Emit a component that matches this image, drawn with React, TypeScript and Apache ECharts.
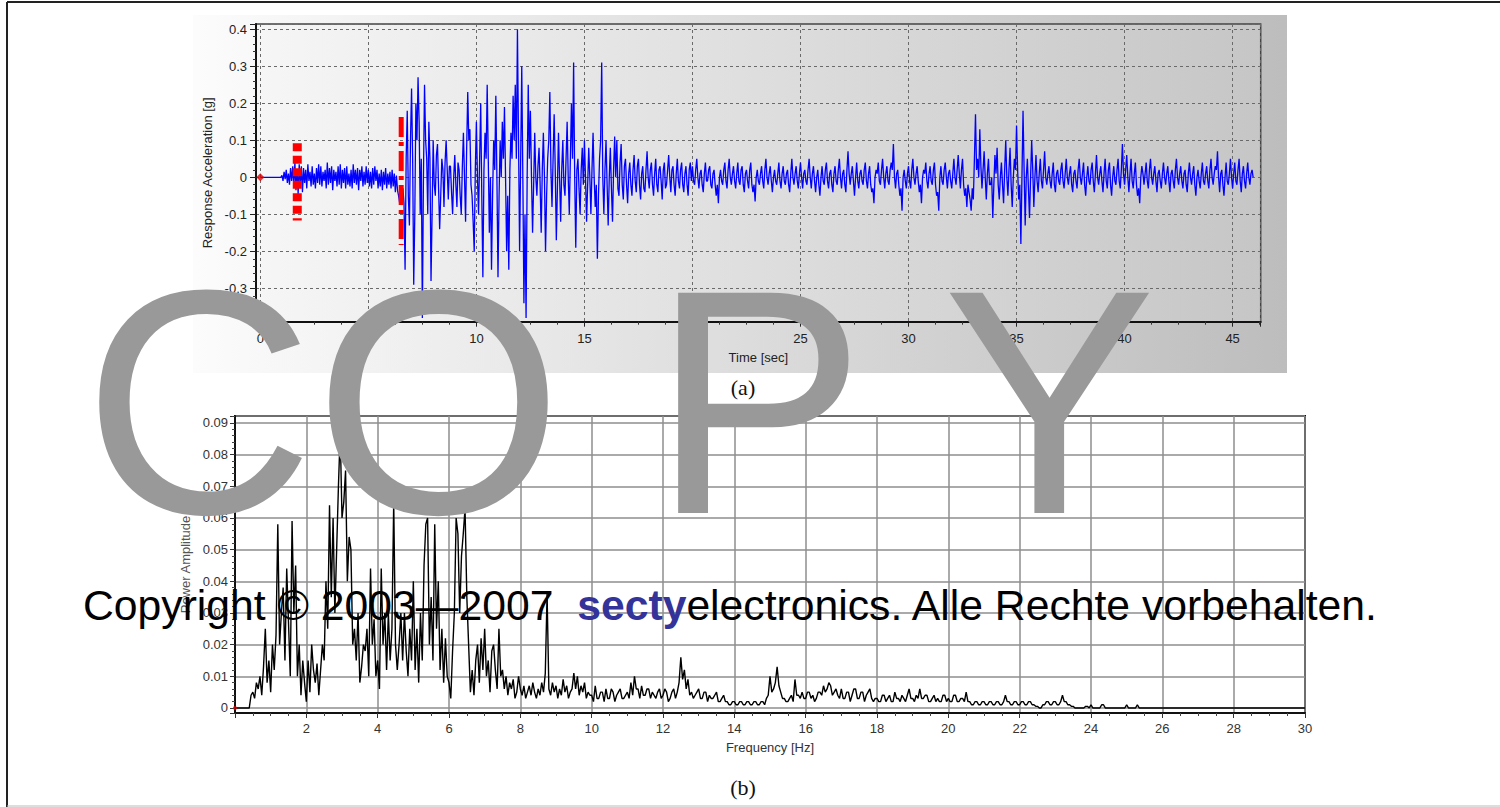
import React, { useEffect, useRef } from "react";
import * as echarts from "echarts";

// ---------- (a) response acceleration [g], sampled every 0.05 s ----------
const ACCEL_STEP = 0.05;
const accel00 = [0,0,0,0,0,0,0,0,0,0,
  0,0,0,0,0,0,0,0,0,0,
  0.005,-0.01,0.015,-0.005,0.02,-0.015,0.01,-0.02,0.025,-0.01,
  0.03,-0.02,0.04,-0.035,0.02,-0.045,0.035,-0.02,0.03,-0.04,
  0.025,-0.015,0.02,-0.03,0.035,-0.01,0.015,-0.025,0.03,-0.02,
  0.01,-0.03,0.025,-0.015,0.035,-0.02,0.03,-0.025,0.015,-0.01,
  0.02,-0.03,0.04,-0.02,0.025,-0.015,0.03,-0.035,0.02,-0.01,
  0.015,-0.025,0.03,-0.02,0.035,-0.03,0.02,-0.015,0.025,-0.03,
  0.03,-0.02,0.01,-0.025,0.02,-0.03,0.035,-0.015,0.02,-0.02,
  0.025,-0.035,0.02,-0.01,0.03,-0.025,0.015,-0.02,0.03,-0.015];
const accel05 = [0.02,-0.025,0.015,-0.03,0.025,-0.02,0.03,-0.01,0.02,-0.03,
  0.01,-0.025,0.02,-0.035,0.015,-0.02,0.025,-0.03,0.01,-0.02,
  0.015,-0.03,0.02,-0.025,0.01,-0.04,0.005,-0.035,-0.05,-0.07,
  -0.04,-0.06,-0.03,-0.07,-0.25,0.05,0.18,-0.05,-0.13,0.1,
  0.24,0.05,-0.29,-0.1,0.2,0.1,0.27,0.15,-0.1,0.05,
  -0.38,0,0.25,0.1,0.05,-0.1,0.15,0.05,-0.28,-0.1,
  0.1,-0.02,-0.05,0.06,0.09,-0.03,-0.14,-0.05,0.05,0.02,
  -0.08,0.04,0.1,0.02,-0.06,0.03,0.03,-0.04,-0.1,0,
  0.06,-0.02,-0.08,0.04,0.02,-0.05,-0.1,0.03,0.12,0,
  -0.12,0.08,0.23,0.1,0.13,-0.02,-0.05,-0.12,-0.2,0.02];
const accel10 = [0.15,0,-0.1,0.05,0.2,-0.05,-0.27,0.02,0.12,0.05,
  0.25,0.05,-0.15,0,-0.25,-0.05,0.1,0.02,0.22,0,
  -0.27,-0.05,0.1,0,0.15,0.05,0.19,0,-0.2,-0.05,
  -0.25,0.02,0.12,0.05,0.22,0.1,0.25,0.05,0.4,0.1,
  -0.2,0.05,0.3,0,-0.34,-0.1,-0.38,0,0.25,0.05,
  0.18,0,-0.15,-0.02,0.12,0,-0.05,0.03,0.08,-0.02,
  -0.15,0.02,0.12,0,-0.2,-0.05,0.05,0.1,0.23,0.02,
  -0.08,0.05,0.17,0.02,-0.17,-0.03,0.12,0,-0.12,0.02,
  0.1,-0.02,-0.05,0.05,0.15,0,-0.1,0.05,0.2,0.05,
  0.31,0,-0.19,0.02,0.05,-0.03,-0.1,0.02,0.08,-0.02];
const accel15 = [0.1,0,-0.12,-0.02,0.08,0,-0.1,0.02,0.12,0,
  -0.08,-0.02,-0.22,-0.05,0.05,0.1,0.31,0,-0.1,0.02,
  0.1,-0.02,-0.13,0,0.08,-0.03,-0.12,0.02,0.11,0,
  0.1,-0.03,-0.05,0.04,0.09,-0.02,-0.06,0.03,0.05,-0.02,
  -0.07,0.01,0.04,-0.02,-0.05,0.02,0.06,-0.01,-0.04,0.03,
  0.05,-0.02,-0.06,0.01,0.03,-0.03,-0.04,0.02,0.07,0,
  -0.03,0.02,0.04,-0.02,-0.05,0.01,0.05,-0.02,-0.04,0.02,
  0.03,-0.01,-0.06,0.02,0.04,-0.03,-0.02,0.02,0.06,0,
  -0.04,0.02,0.03,-0.02,-0.05,0.01,0.05,-0.01,-0.03,0.02,
  0.04,-0.02,-0.04,0.01,0.03,-0.02,-0.05,0.02,0.04,-0.01];
const accel20 = [0.03,-0.01,-0.02,0.02,0.05,0,-0.03,0.01,0.02,-0.02,
  -0.04,0.01,0.04,-0.01,-0.01,0.02,0.03,-0.02,-0.03,0.01,
  0.02,-0.02,-0.05,-0.02,-0.07,0,0.02,-0.01,-0.02,0.02,
  0.04,-0.01,-0.03,0.02,0.05,0,-0.02,0.01,0.03,-0.01,
  -0.03,0.01,0.04,-0.01,-0.02,0.02,0.03,-0.02,-0.04,0.01,
  0.02,-0.01,-0.03,0.02,0.04,-0.02,-0.04,-0.02,-0.065,0,
  0.02,-0.01,-0.02,0.01,0.03,-0.01,-0.03,0.02,0.05,0,
  -0.02,0.01,0.03,-0.01,-0.04,0,0.02,-0.01,-0.02,0.01,
  0.04,-0.01,-0.03,0.01,0.03,-0.01,-0.02,0.01,0.02,-0.02,
  -0.04,0.01,0.05,0,-0.02,0.01,0.03,-0.01,-0.03,0.01];
const accel25 = [0.04,0,-0.03,0.01,0.02,-0.01,-0.02,0.02,0.05,0,
  -0.03,0.01,0.03,-0.01,-0.04,0,0.02,-0.02,-0.05,0,
  0.03,-0.01,-0.02,0.02,0.04,-0.01,-0.03,0.01,0.02,-0.02,
  -0.04,0.01,0.03,-0.01,-0.02,0.02,0.05,0,-0.03,0.01,
  0.02,-0.02,-0.04,0.02,0.07,0.01,-0.02,0.01,0.03,-0.01,
  -0.05,0,0.04,-0.01,-0.03,0.01,0.02,-0.01,-0.02,0.02,
  0.04,-0.01,-0.03,0.01,0.03,-0.02,-0.04,-0.03,-0.07,0,
  0.02,0.01,0.04,-0.01,-0.02,0.02,0.05,0,-0.03,0.01,
  0.03,-0.01,-0.02,0.02,0.04,0.02,0.09,0,-0.03,0.01,
  0.02,-0.02,-0.05,-0.03,-0.09,0,0.02,-0.01,-0.03,0.01];
const accel30 = [0.03,-0.01,-0.03,0.02,0.05,0,-0.02,0.01,0.03,-0.01,
  -0.04,-0.02,-0.07,0,0.02,0.01,0.04,-0.01,-0.03,0.01,
  0.03,-0.01,-0.02,0.02,0.04,-0.02,-0.05,-0.04,-0.09,0,
  0.03,-0.01,-0.02,0.02,0.04,0,-0.03,0.01,0.02,-0.01,
  -0.03,0.01,0.05,0,-0.02,0.02,0.06,0.01,-0.03,0.02,
  0.05,-0.02,-0.05,-0.03,-0.08,-0.02,-0.04,-0.06,-0.09,-0.03,
  -0.06,0.05,0.17,0.02,0.05,0,0.13,0.03,-0.03,0.02,
  0.07,0,-0.06,0.01,0.05,-0.02,-0.02,0,-0.11,-0.02,
  0.06,0.01,0.08,-0.02,-0.06,0,0.04,-0.02,-0.07,0.02,
  0.1,0,-0.05,0.02,0.08,-0.02,-0.08,0,0.05,0.02];
const accel35 = [0.14,0.02,-0.06,-0.02,-0.18,0,0.18,0.02,-0.13,0,
  0.05,-0.03,-0.11,0,0.1,0.02,-0.08,0,0.06,-0.01,
  -0.04,0.01,0.05,-0.01,-0.03,0.02,0.07,0,-0.02,0.01,
  0.03,-0.01,-0.03,0.01,0.04,-0.02,-0.04,0.01,0.02,-0.01,
  -0.02,0.02,0.04,-0.01,-0.03,0.01,0.05,0,-0.02,0.01,
  0.03,-0.02,-0.04,0.01,0.02,-0.01,-0.03,0.02,0.05,0,
  -0.02,0.01,0.04,-0.02,-0.05,0,0.03,-0.01,-0.02,0.02,
  0.04,-0.01,-0.04,0.01,0.06,0,-0.02,0.01,0.03,-0.01,
  -0.04,0.01,0.05,-0.01,-0.03,0.02,0.04,-0.02,-0.05,0,
  0.03,-0.01,-0.02,0.02,0.05,-0.01,-0.03,0.02,0.09,0.01];
const accel40 = [-0.02,0.02,0.06,0,-0.04,0.01,0.05,-0.01,-0.03,0.01,
  0.04,-0.02,-0.05,-0.03,-0.07,0,0.03,0.01,-0.02,0.01,
  0.04,-0.01,-0.03,0.02,0.05,0,-0.02,0.01,0.03,-0.01,
  -0.04,0.01,0.02,-0.01,-0.03,0.01,0.04,0,-0.02,0.01,
  0.03,-0.01,-0.04,0.01,0.02,-0.01,-0.03,0.02,0.05,0,
  -0.02,0.01,0.03,-0.01,-0.03,0.01,0.02,-0.02,-0.04,0.01,
  0.04,0,-0.02,0.01,0.03,-0.02,-0.05,0,0.02,-0.01,
  -0.03,0.01,0.04,-0.01,-0.02,0.01,0.03,-0.01,-0.03,0.02,
  0.05,0,-0.02,0.01,0.03,0.02,0.07,0,-0.04,0.01,
  0.02,-0.02,-0.05,0,0.04,-0.01,-0.02,0.01,0.05,0,
  -0.03,0.01,0.04,-0.01,-0.02,0.02,0.05,-0.01,-0.04,0.01,
  0.03,-0.01,-0.03,0.01,0.04,0,-0.02,0.01,0.02,0];
const accelSegments: [number, number[]][] = [
  [0, accel00], [5, accel05], [10, accel10], [15, accel15], [20, accel20],
  [25, accel25], [30, accel30], [35, accel35], [40, accel40],
];

// red trigger markers on (a): time [s], top and bottom [g]
const preTriggerMarker = { t: 1.71, top: 0.092, bottom: -0.117 };
const triggerMarker = { t: 6.52, top: 0.163, bottom: -0.183 };

// ---------- (b) power amplitude spectrum, 0.05 Hz bins ----------
const SPEC_STEP = 0.05;
const SPEC_TAIL_STEP = 0.5;
const spec00 = [0,0,0,0,0,0,0,0,0,0.004,
  0.005,0.003,0.008,0.006,0.01,0.004,0.013,0.025,0.008,0.015,
  0.005,0.02,0.012,0.023,0.058,0.02,0.03,0.038,0.015,0.044,
  0.027,0.01,0.059,0.03,0.045,0.01,0.02,0.004,0.015,0.008,
  0.002,0.015,0.005,0.02,0.012,0.008,0.014,0.004,0.012,0.02,
  0.015,0.04,0.025,0.064,0.035,0.06,0.03,0.05,0.07,0.087,
  0.06,0.065,0.075,0.04,0.054,0.05,0.02,0.025,0.015,0.03,
  0.008,0.013,0.02,0.018,0.025,0.01,0.044,0.02,0.028,0.01,
  0.015,0.006,0.044,0.02,0.03,0.012,0.03,0.015,0.025,0.065,
  0.02,0.012,0.02,0.03,0.015,0.03,0.018,0.01,0.025,0.015];
const spec05 = [0.04,0.012,0.025,0.008,0.03,0.015,0.045,0.058,0.06,0.02,
  0.035,0.015,0.058,0.025,0.04,0.012,0.025,0.008,0.022,0.01,
  0.008,0.003,0.018,0.03,0.06,0.055,0.03,0.048,0.055,0.063,
  0.035,0.02,0.005,0.012,0.004,0.015,0.02,0.008,0.022,0.012,
  0.025,0.01,0.015,0.005,0.018,0.02,0.012,0.006,0.025,0.01,
  0.012,0.006,0.01,0.004,0.008,0.006,0.009,0.003,0.005,0.01,
  0.006,0.004,0.007,0.003,0.005,0.007,0.004,0.008,0.005,0.003,
  0.006,0.004,0.008,0.005,0.011,0.036,0.006,0.004,0.008,0.005,
  0.007,0.003,0.006,0.004,0.009,0.005,0.007,0.003,0.005,0.006,
  0.011,0.006,0.01,0.004,0.007,0.005,0.008,0.003,0.005,0.004];
const spec10 = [0.004,0.002,0.007,0.003,0.003,0.005,0.005,0.002,0.006,0.003,
  0.003,0.006,0.005,0.002,0.004,0.005,0.006,0.003,0.003,0.004,
  0.005,0.003,0.008,0.004,0.01,0.006,0.006,0.003,0.007,0.004,
  0.004,0.006,0.006,0.003,0.005,0.004,0.003,0.005,0.006,0.003,
  0.004,0.006,0.005,0.002,0.003,0.005,0.006,0.003,0.005,0.008,
  0.016,0.009,0.012,0.006,0.009,0.004,0.005,0.003,0.004,0.005,
  0.006,0.003,0.003,0.005,0.005,0.002,0.004,0.003,0.003,0.004,
  0.005,0.002,0.002,0.003,0.004,0.002,0.002,0.001,0.001,0.002,
  0.002,0.001,0.001,0.002,0.002,0.001,0.001,0.002,0.002,0.001,
  0.001,0.002,0.002,0.001,0.001,0.002,0.002,0.001,0.003,0.004];
const spec15 = [0.01,0.005,0.006,0.008,0.013,0.007,0.005,0.003,0.003,0.002,
  0.002,0.003,0.004,0.002,0.009,0.004,0.004,0.003,0.005,0.003,
  0.003,0.005,0.005,0.003,0.004,0.002,0.003,0.005,0.005,0.004,
  0.007,0.005,0.006,0.008,0.007,0.004,0.005,0.006,0.004,0.003,
  0.006,0.003,0.003,0.005,0.005,0.002,0.004,0.006,0.006,0.003,
  0.003,0.005,0.005,0.002,0.004,0.005,0.006,0.003,0.002,0.003,
  0.003,0.002,0.002,0.004,0.004,0.002,0.003,0.004,0.002,0.002,
  0.005,0.003,0.003,0.002,0.004,0.003,0.002,0.004,0.006,0.003,
  0.003,0.002,0.004,0.003,0.006,0.003,0.003,0.004,0.004,0.002,
  0.002,0.003,0.004,0.002,0.003,0.002,0.002,0.004,0.004,0.002];
const spec20 = [0.003,0.002,0.002,0.004,0.004,0.002,0.002,0.003,0.003,0.002,
  0.005,0.002,0.002,0.001,0.001,0.002,0.002,0.001,0.001,0.002,
  0.002,0.001,0.001,0.002,0.002,0.001,0.001,0.002,0.002,0.001,
  0.001,0.002,0.004,0.002,0.002,0.001,0.001,0.002,0.002,0.001,
  0.001,0.002,0.002,0.001,0.001,0.002,0.002,0.001,0.001,0.0005,
  0.0005,0,0,0.001,0.001,0.002,0.002,0.001,0.001,0.002,
  0.002,0.001,0.001,0.002,0.004,0.002,0.002,0.001,0.001,0.0005,
  0.0005,0,0,0,0,0,0,0.0005,0.0005,0,
  0.001,0,0,0,0,0,0.001,0.001,0,0,
  0,0,0,0,0,0,0,0,0,0,
  0.001,0,0,0,0,0,0.001,0,0,0,
  0,0,0,0,0,0,0,0,0,0];
const specTail = [0,0,0,0,0,0,0,0,0];
const specSegments: [number, number, number[]][] = [
  [0, SPEC_STEP, spec00], [5, SPEC_STEP, spec05], [10, SPEC_STEP, spec10],
  [15, SPEC_STEP, spec15], [20, SPEC_STEP, spec20], [26, SPEC_TAIL_STEP, specTail],
];

// ---------- texts ----------
const TITLE_A = "(a)";
const TITLE_B = "(b)";
const WATERMARK = "CO P Y";
const COPYRIGHT_PRE = "Copyright \u00a9 2003\u20142007\u00a0\u00a0";
const COPYRIGHT_BRAND = "secty";
const COPYRIGHT_POST = "electronics. Alle Rechte vorbehalten.";

const FONT = "'Liberation Sans', Arial, sans-serif";

function buildAccel(): number[][] {
  const out: number[][] = [];
  accelSegments.forEach(([start, vals]) => {
    vals.forEach((v, i) => out.push([Number((start + i * ACCEL_STEP).toFixed(3)), v]));
  });
  return out;
}
function buildSpectrum(): number[][] {
  const out: number[][] = [];
  specSegments.forEach(([start, step, vals]) => {
    vals.forEach((v, i) => out.push([Number((start + i * step).toFixed(3)), v]));
  });
  return out;
}

function buildOption(): any {
  const panelFill = new echarts.graphic.LinearGradient(0, 0, 1, 0, [
    { offset: 0, color: "#fcfcfc" },
    { offset: 1, color: "#bdbdbd" },
  ]);
  const plotFill = new echarts.graphic.LinearGradient(0, 0, 1, 0, [
    { offset: 0, color: "#f6f6f6" },
    { offset: 1, color: "#c6c6c6" },
  ]);
  const labelA = { fontFamily: FONT, fontSize: 13, color: "#222" };
  const labelB = { fontFamily: FONT, fontSize: 13, color: "#333" };
  return {
    animation: false,
    backgroundColor: "#ffffff",
    textStyle: { fontFamily: FONT },
    grid: [
      { left: 256, top: 24, width: 1004.7, height: 297.7, show: true, backgroundColor: plotFill, borderColor: "#444", borderWidth: 1.5 },
      { left: 235, top: 416, width: 1070, height: 297, show: true, backgroundColor: "#ffffff", borderColor: "#111", borderWidth: 2 },
    ],
    xAxis: [
      {
        gridIndex: 0, type: "value", min: -0.2, max: 46.3, splitNumber: 9,
        axisLine: { onZero: false, lineStyle: { color: "#111", width: 2 } },
        axisTick: { length: 5, lineStyle: { color: "#222" } },
        minorTick: { show: true, splitNumber: 4, length: 3, lineStyle: { color: "#333" } },
        axisLabel: { ...labelA, margin: 10, showMinLabel: false, showMaxLabel: false, formatter: (v: number) => String(Math.round(v)) },
        splitLine: { show: true, lineStyle: { color: "#6a6a6a", type: [3, 3], width: 1 } },
        name: "Time [sec]", nameLocation: "middle", nameGap: 29, nameTextStyle: { fontFamily: FONT, fontSize: 13, color: "#222" },
      },
      {
        gridIndex: 1, type: "value", min: 0, max: 30, interval: 2,
        axisLine: { onZero: false, lineStyle: { color: "#111", width: 2 } },
        axisTick: { length: 5, lineStyle: { color: "#333" } },
        minorTick: { show: true, splitNumber: 4, length: 3, lineStyle: { color: "#444" } },
        axisLabel: { ...labelB, margin: 9, showMinLabel: false, formatter: (v: number) => String(v) },
        splitLine: { show: true, lineStyle: { color: "#8e8e8e", width: 1.5 } },
        name: "Frequency [Hz]", nameLocation: "middle", nameGap: 28, nameTextStyle: { fontFamily: FONT, fontSize: 13, color: "#333" },
      },
    ],
    yAxis: [
      {
        gridIndex: 0, type: "value", min: -0.39, max: 0.414, splitNumber: 8,
        axisLine: { onZero: false, lineStyle: { color: "#111", width: 2 } },
        axisTick: { length: 6, lineStyle: { color: "#222" } },
        minorTick: { show: true, splitNumber: 5, length: 3, lineStyle: { color: "#333" } },
        axisLabel: { ...labelA, margin: 9, showMinLabel: false, showMaxLabel: false, formatter: (v: number) => (Math.abs(v) < 1e-9 ? "0" : v.toFixed(1)) },
        splitLine: { show: true, lineStyle: { color: "#6a6a6a", type: [3, 3], width: 1 } },
        name: "Response Acceleration [g]", nameLocation: "middle", nameGap: 31, nameTextStyle: { fontFamily: FONT, fontSize: 13, color: "#222" },
      },
      {
        gridIndex: 1, type: "value", min: -0.0016, max: 0.0922, splitNumber: 9,
        axisLine: { onZero: false, lineStyle: { color: "#111", width: 2 } },
        axisTick: { length: 5, lineStyle: { color: "#333" } },
        minorTick: { show: true, splitNumber: 5, length: 3, lineStyle: { color: "#444" } },
        axisLabel: { ...labelB, margin: 7, showMinLabel: false, showMaxLabel: false, formatter: (v: number) => (Math.abs(v) < 1e-9 ? "0" : v.toFixed(2)) },
        splitLine: { show: true, lineStyle: { color: "#8e8e8e", width: 1.5 } },
        name: "Power Amplitude", nameLocation: "middle", nameGap: 34, nameTextStyle: { fontFamily: FONT, fontSize: 13, color: "#555" },
      },
    ],
    series: [
      {
        type: "line", xAxisIndex: 0, yAxisIndex: 0, data: buildAccel(), showSymbol: false, symbol: "none",
        lineStyle: { color: "#0000ff", width: 1.3 }, z: 3, silent: true,
      },
      {
        type: "line", xAxisIndex: 0, yAxisIndex: 0, symbol: "none", z: 4, silent: true,
        data: [[preTriggerMarker.t, preTriggerMarker.top], [preTriggerMarker.t, preTriggerMarker.bottom]],
        lineStyle: { color: "#ff0000", width: 9, type: [8, 4.5], cap: "butt" },
      },
      {
        type: "line", xAxisIndex: 0, yAxisIndex: 0, symbol: "none", z: 4, silent: true,
        data: [[triggerMarker.t, triggerMarker.top], [triggerMarker.t, triggerMarker.bottom]],
        lineStyle: { color: "#ff0000", width: 5, type: [20, 5, 4, 5], cap: "butt" },
      },
      {
        type: "scatter", xAxisIndex: 0, yAxisIndex: 0, data: [[0, 0]], symbol: "diamond", symbolSize: 8,
        itemStyle: { color: "#e00000" }, z: 5, silent: true,
      },
      {
        type: "line", xAxisIndex: 1, yAxisIndex: 1, data: buildSpectrum(), showSymbol: false, symbol: "none",
        lineStyle: { color: "#000000", width: 1.4 }, z: 3, silent: true,
      },
      {
        type: "scatter", xAxisIndex: 1, yAxisIndex: 1, data: [[0, 0]], symbol: "circle", symbolSize: 4,
        itemStyle: { color: "#e00000" }, z: 5, silent: true,
      },
    ],
    graphic: [
      { type: "rect", z: -10, silent: true, shape: { x: 193, y: 15, width: 1094, height: 358 }, style: { fill: panelFill } },
      { type: "line", z: 50, silent: true, shape: { x1: 7, y1: 2, x2: 1500, y2: 2 }, style: { stroke: "#222", lineWidth: 2 } },
      { type: "line", z: 50, silent: true, shape: { x1: 7, y1: 2, x2: 7, y2: 807 }, style: { stroke: "#222", lineWidth: 2 } },
      { type: "line", z: 50, silent: true, shape: { x1: 7, y1: 806, x2: 1500, y2: 806 }, style: { stroke: "#bbb", lineWidth: 1 } },
      { type: "text", z: 50, silent: true, x: 743, y: 387, style: { text: TITLE_A, font: "22px 'Liberation Serif', 'Times New Roman', serif", fill: "#111", align: "center", verticalAlign: "middle" } },
      { type: "text", z: 50, silent: true, x: 743, y: 787, style: { text: TITLE_B, font: "22px 'Liberation Serif', 'Times New Roman', serif", fill: "#111", align: "center", verticalAlign: "middle" } },
      { type: "text", z: 100, silent: true, x: 83, y: 402, style: { text: WATERMARK, font: "320px 'Liberation Sans', Arial, sans-serif", fill: "#999999", align: "left", verticalAlign: "middle" } },
      {
        type: "text", z: 110, silent: true, x: 83, y: 605,
        style: {
          text: `{n|${COPYRIGHT_PRE}}{b|${COPYRIGHT_BRAND}}{n|${COPYRIGHT_POST}}`,
          align: "left", verticalAlign: "middle",
          rich: {
            n: { fontSize: 42.7, fontFamily: "'Liberation Sans', Arial, sans-serif", fill: "#000" },
            b: { fontSize: 42.7, fontFamily: "'Liberation Sans', Arial, sans-serif", fontWeight: "bold", fill: "#333399" },
          },
        },
      },
    ],
  };
}

export default function App() {
  const ref = useRef<HTMLDivElement>(null);
  useEffect(() => {
    if (!ref.current) return;
    const chart = echarts.init(ref.current, null, { renderer: "svg" });
    chart.setOption(buildOption());
    return () => chart.dispose();
  }, []);
  return (
    <div
      ref={ref}
      style={{ position: "fixed", left: 0, top: 0, width: 1500, height: 807, background: "#fff" }}
    />
  );
}
